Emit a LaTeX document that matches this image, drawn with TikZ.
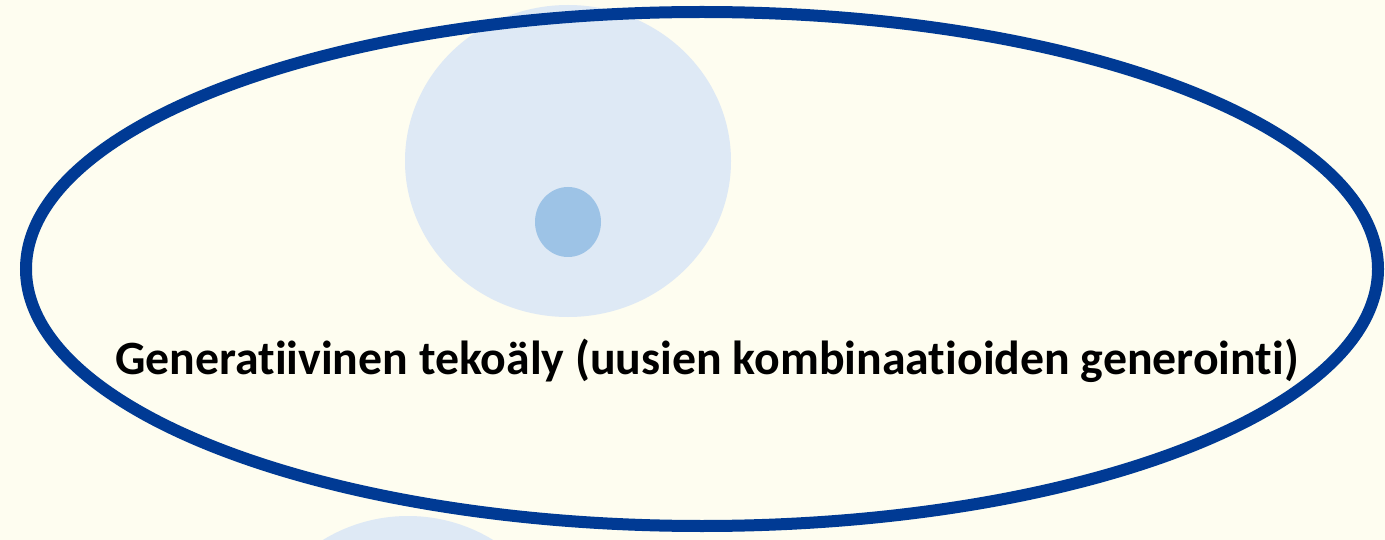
\documentclass[tikz,border=0pt]{standalone}
\usepackage{fontspec}
\setmainfont[Ligatures={NoCommon}]{Carlito}
\definecolor{bgcream}{RGB}{254,253,240}
\definecolor{paleblue}{RGB}{222,233,245}
\definecolor{midblue}{RGB}{157,195,230}
\definecolor{darkblue}{RGB}{0,58,148}
\tikzset{
  bubble/.style={fill=paleblue, draw=none},
  dot/.style={fill=midblue, draw=none},
  outline/.style={draw=darkblue, line width=12pt},
  label/.style={font=\bfseries\fontsize{47.8}{56}\selectfont, text=black, anchor=base, inner sep=0pt}
}
\begin{document}
\begin{tikzpicture}[x=1pt,y=-1pt]
  \fill[bgcream] (0,0) rectangle (1385,540);
  \useasboundingbox (0,0) rectangle (1385,540);
  \fill[bubble] (568,161) ellipse [x radius=163, y radius=156];
  \fill[bubble] (408,679) circle [radius=163];
  \fill[dot] (568,222) ellipse [x radius=33, y radius=35];
  \draw[outline] (702,269) ellipse [x radius=676, y radius=257];
  \node[label] (title) at (707,374) {Generatiivinen tekoäly (uusien kombinaatioiden generointi)};
\end{tikzpicture}
\end{document}
